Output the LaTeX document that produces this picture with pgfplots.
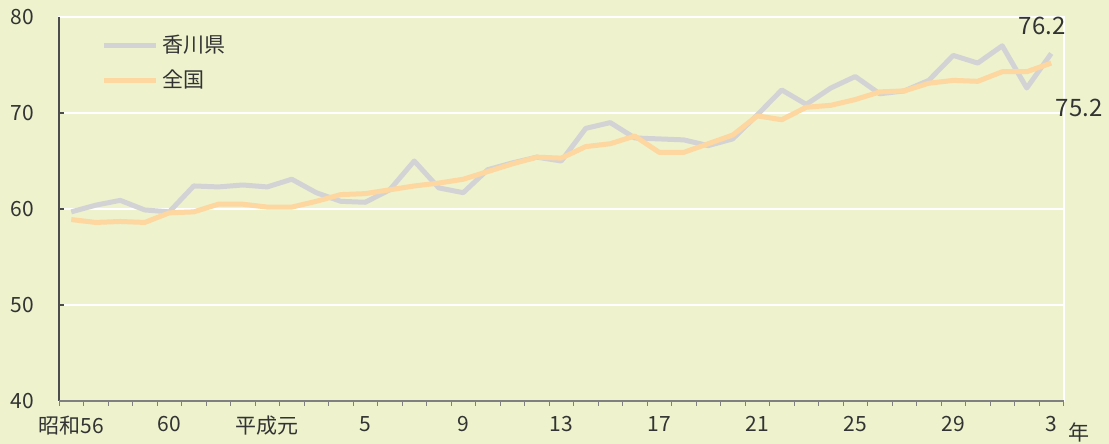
\documentclass[border=0pt]{standalone}
\usepackage{fontspec}
\setmainfont{Noto Sans CJK JP}
\usepackage{pgfplots}
\usepackage{pgfplotstable}
\pgfplotsset{compat=1.18}
\definecolor{bg}{HTML}{EEF3CD}
\definecolor{grayline}{HTML}{D3D3D6}
\definecolor{orangeline}{HTML}{FDD6A0}
\definecolor{txt}{HTML}{333333}
\pgfplotstableread{
x g o
0 59.7 58.9
1 60.4 58.6
2 60.9 58.7
3 59.9 58.6
4 59.7 59.6
5 62.4 59.7
6 62.3 60.5
7 62.5 60.5
8 62.3 60.2
9 63.1 60.2
10 61.7 60.8
11 60.8 61.5
12 60.7 61.6
13 62.0 62.0
14 65.0 62.4
15 62.2 62.7
16 61.7 63.1
17 64.1 63.9
18 64.8 64.7
19 65.4 65.4
20 65.0 65.3
21 68.4 66.5
22 69.0 66.8
23 67.4 67.6
24 67.3 65.9
25 67.2 65.9
26 66.6 66.8
27 67.3 67.7
28 69.8 69.7
29 72.4 69.3
30 70.9 70.6
31 72.6 70.8
32 73.8 71.4
33 72.0 72.2
34 72.3 72.3
35 73.4 73.1
36 76.0 73.4
37 75.2 73.3
38 77.0 74.3
39 72.6 74.3
40 76.2 75.2
}\datatable
\begin{document}
\begin{tikzpicture}
\fill[bg] (-29.5pt,-21.5pt) rectangle (525pt,200.5pt);
\useasboundingbox (-29.5pt,-21.5pt) rectangle (525pt,200.5pt);
\begin{axis}[
  at={(0,0)}, anchor=south west, scale only axis,
  width=502.25pt, height=192pt,
  xmin=-0.5, xmax=40.5, ymin=40, ymax=80,
  clip=false,
  axis background/.style={fill=bg},
  axis line style={draw=white, line width=1pt},
  ytick={40,50,60,70,80},
  ymajorgrids,
  major grid style={draw=white, line width=0.8pt},
  xtick={-0.5,0.5,...,40.5},
  xticklabels={},
  extra x ticks={0,4,...,40},
  extra x tick labels={昭和56,60,平成元,5,9,13,17,21,25,29,3},
  extra x tick style={major tick length=0pt, grid=none, xticklabel style={yshift=-4pt}},
  tick align=inside,
  xtick pos=bottom, ytick pos=left,
  major tick length=2.5pt,
  xtick style={draw=gray, line width=0.5pt, yshift=-2.5pt},
  ytick style={draw=black!70, line width=0.6pt},
  tick label style={font=\fontsize{10.5}{12}\selectfont, text=txt},
  yticklabel style={xshift=-9pt},
  /pgf/number format/assume math mode=true,
  legend cell align=left,
  legend style={draw=none, fill=none, at={(rel axis cs:0,1)}, anchor=north west,
    xshift=18pt, yshift=-5pt, font=\fontsize{10.5}{12}\selectfont, text=txt,
    row sep=3pt},
  legend image code/.code={\draw[#1] (0pt,0pt)--(26pt,0pt);},
]
\draw[black!70, line width=0.7pt] (rel axis cs:0,0) -- (rel axis cs:0,1);
\draw[gray, line width=0.6pt] (rel axis cs:0,0) -- (rel axis cs:1,0);
\addplot[grayline, line width=2.5pt, line join=round] table[x=x, y=g] {\datatable};
\addlegendentry{香川県}
\addplot[orangeline, line width=2.5pt, line join=round] table[x=x, y=o] {\datatable};
\addlegendentry{全国}
\node[font=\fontsize{12}{14}\selectfont, text=txt] at (axis cs:40,76.2) [xshift=-4.5pt, yshift=14pt] {76.2};
\node[font=\fontsize{12}{14}\selectfont, text=txt] at (axis cs:40,75.2) [xshift=14pt, yshift=-22.5pt] {75.2};
\node[font=\fontsize{10.5}{12}\selectfont, text=txt] at (rel axis cs:1,0) [xshift=7.5pt, yshift=-15.5pt] {年};
\end{axis}
\end{tikzpicture}
\end{document}
